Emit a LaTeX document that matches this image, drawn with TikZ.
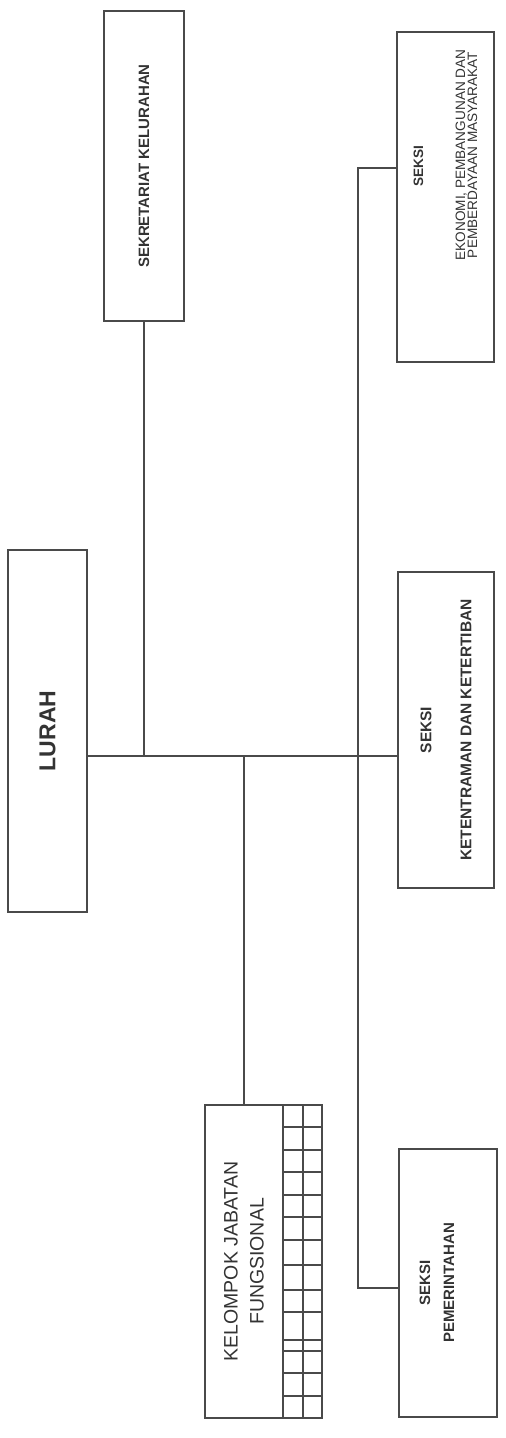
\documentclass[tikz,border=0pt]{standalone}
\usepackage{fontspec}
\setmainfont{Liberation Sans}
\definecolor{ink}{HTML}{4A4A4A}
\definecolor{txt}{HTML}{333333}

\begin{document}
\begin{tikzpicture}[x=1pt,y=-1pt,
  unit/.style={draw=ink, line width=1.3pt, rotate=90, align=center, inner sep=0pt, text=txt},
  link/.style={draw=ink, line width=1.2pt}]
\useasboundingbox (0,0) rectangle (506,1438);

\node[unit, minimum width=362pt, minimum height=79pt, font=\fontsize{23}{28}\selectfont\bfseries] (lurah) at (47.5,731) {LURAH};
\node[unit, minimum width=310pt, minimum height=80pt, font=\fontsize{15}{18}\selectfont\bfseries] (sekr) at (144,166) {SEKRETARIAT KELURAHAN};
\node[unit, minimum width=330pt, minimum height=97pt, font=\fontsize{13.6}{12}\selectfont] (eko) at (445.5,197)
  {\hspace*{62pt}\textbf{SEKSI}\\[30pt]\hspace*{84pt}EKONOMI, PEMBANGUNAN DAN\\\hspace*{84pt}PEMBERDAYAAN MASYARAKAT};
\node[unit, minimum width=316pt, minimum height=96pt, font=\fontsize{15.5}{18}\selectfont\bfseries] (ket) at (446,730)
  {SEKSI\\[22pt]KETENTRAMAN DAN KETERTIBAN};
\node[unit, minimum width=268pt, minimum height=98pt, font=\fontsize{15}{24}\selectfont\bfseries] (pem) at (448,1283)
  {SEKSI\\PEMERINTAHAN\rule[-22pt]{0pt}{0pt}};
\node[unit, minimum width=313pt, minimum height=78pt, font=\fontsize{19.5}{26}\selectfont] (kel) at (244,1261.5)
  {KELOMPOK JABATAN\\FUNGSIONAL};

% kotak-kotak di samping kelompok fungsional
\draw[link] (283,1105) rectangle (322,1418);
\draw[link] (303,1105) -- (303,1418);
\foreach \y in {1127,1150,1172,1195,1217,1240,1265,1290,1312,1340,1351,1373,1396}
  \draw[link] (283,\y) -- (322,\y);

\coordinate (trunk) at (0,756);
\coordinate (spinetop) at (358,168);
\coordinate (spinebot) at (358,1288);

\draw[link] (lurah.south |- trunk) -- (ket.north |- trunk);
\draw[link] (sekr.west) -- (sekr.west |- trunk);
\draw[link] (kel.east) -- (kel.east |- trunk);
\draw[link] (eko.north |- spinetop) -- (spinetop) -- (spinebot) -- (pem.north |- spinebot);
\end{tikzpicture}
\end{document}
